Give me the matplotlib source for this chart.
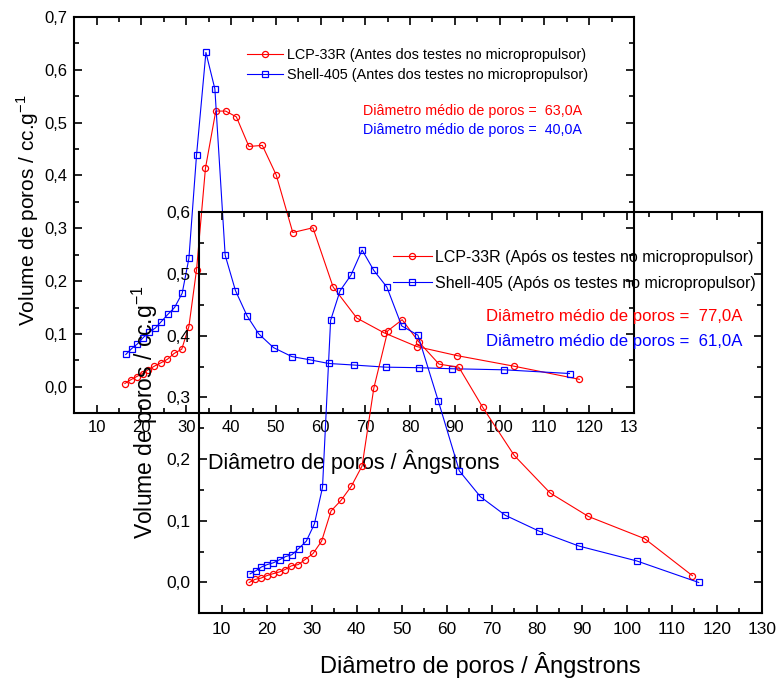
import matplotlib
matplotlib.use('Agg')
import matplotlib.pyplot as plt
from matplotlib.ticker import MultipleLocator
from matplotlib.transforms import Bbox, TransformedBbox

plt.rcParams['font.family'] = ['Liberation Sans', 'DejaVu Sans']

# Antes dos testes (top-left plot)
lcp_antes_x = [16.3, 17.6, 18.9, 20.3, 21.5, 22.9, 24.3, 25.8, 27.3, 29.0, 30.6, 32.3, 34.3, 36.6,
               38.8, 41.2, 44.0, 47.0, 50.1, 53.8, 58.3, 62.8, 68.1, 74.2, 81.5, 90.4, 103.1, 117.8]
lcp_antes_y = [0.006, 0.013, 0.019, 0.025, 0.032, 0.039, 0.045, 0.052, 0.063, 0.071, 0.114, 0.221, 0.414, 0.522,
               0.522, 0.511, 0.455, 0.457, 0.401, 0.292, 0.301, 0.189, 0.130, 0.102, 0.076, 0.059, 0.039, 0.014]
shell_antes_x = [16.5, 17.8, 19.1, 20.4, 21.7, 23.1, 24.4, 25.9, 27.4, 29.1, 30.6, 32.3, 34.4, 36.4,
                 38.7, 41.0, 43.6, 46.2, 49.5, 53.6, 57.6, 61.8, 67.5, 74.6, 82.0, 89.4, 101.0, 115.6]
shell_antes_y = [0.061, 0.072, 0.081, 0.093, 0.103, 0.111, 0.123, 0.137, 0.150, 0.177, 0.243, 0.438, 0.633, 0.564,
                 0.249, 0.182, 0.134, 0.100, 0.074, 0.057, 0.051, 0.044, 0.041, 0.037, 0.036, 0.034, 0.032, 0.025]

# Após os testes (lower-right plot)
lcp_apos_x = [16.1, 17.4, 18.7, 20.0, 21.3, 22.8, 24.1, 25.5, 27.0, 28.5, 30.3, 32.2, 34.3, 36.5,
              38.8, 41.2, 43.8, 46.9, 50.1, 53.8, 58.3, 62.7, 68.0, 75.0, 83.0, 91.5, 104.0, 114.6]
lcp_apos_y = [0.000, 0.005, 0.007, 0.011, 0.014, 0.017, 0.021, 0.027, 0.029, 0.037, 0.047, 0.067, 0.116, 0.133,
              0.156, 0.189, 0.315, 0.408, 0.426, 0.390, 0.354, 0.349, 0.284, 0.206, 0.145, 0.107, 0.071, 0.011]
shell_apos_x = [16.3, 17.6, 18.8, 20.1, 21.5, 22.9, 24.2, 25.6, 27.1, 28.8, 30.6, 32.4, 34.2, 36.3,
                38.7, 41.2, 43.8, 46.7, 50.0, 53.6, 58.1, 62.8, 67.5, 73.0, 80.6, 89.4, 102.2, 116.0]
shell_apos_y = [0.014, 0.019, 0.025, 0.029, 0.032, 0.037, 0.042, 0.045, 0.055, 0.067, 0.095, 0.154, 0.425, 0.473,
                0.498, 0.539, 0.506, 0.479, 0.416, 0.401, 0.295, 0.181, 0.139, 0.109, 0.083, 0.059, 0.035, 0.000]

x_ticks = [10, 20, 30, 40, 50, 60, 70, 80, 90, 100, 110, 120, 130]
x_tick_labels = ['10', '20', '30', '40', '50', '60', '70', '80', '90', '100', '110', '120', '130']
y_ticks_top = [0.0, 0.1, 0.2, 0.3, 0.4, 0.5, 0.6, 0.7]
y_labels_top = ['0,0', '0,1', '0,2', '0,3', '0,4', '0,5', '0,6', '0,7']
y_ticks_low = [0.0, 0.1, 0.2, 0.3, 0.4, 0.5, 0.6]
y_labels_low = ['0,0', '0,1', '0,2', '0,3', '0,4', '0,5', '0,6']

ylab = 'Volume de poros / cc.g$^{\\mathregular{-1}}$'
xlab = 'Diâmetro de poros / Ângstrons'

fig = plt.figure(figsize=(7.76, 6.78), dpi=100)
ax1 = fig.add_axes([0.0957, 0.3907, 0.7213, 0.5841])
ax2 = fig.add_axes([0.2567, 0.0954, 0.7249, 0.5913])

style = dict(lw=0.8, ms=4.4, mew=0.9, mfc='none')
ax1.plot(lcp_antes_x, lcp_antes_y, '-o', color='red', **style,
         label='LCP-33R (Antes dos testes no micropropulsor)')
ax1.plot(shell_antes_x, shell_antes_y, '-s', color='blue', **style,
         label='Shell-405 (Antes dos testes no micropropulsor)')
ax2.plot(lcp_apos_x, lcp_apos_y, '-o', color='red', **style,
         label='LCP-33R (Após os testes no micropropulsor)')
ax2.plot(shell_apos_x, shell_apos_y, '-s', color='blue', **style,
         label='Shell-405 (Após os testes no micropropulsor)')

for ax, yt, yl, ylim in ((ax1, y_ticks_top, y_labels_top, (-0.05, 0.7)),
                         (ax2, y_ticks_low, y_labels_low, (-0.05, 0.6))):
    ax.set_facecolor('none')
    ax.set_xlim(5, 130)
    ax.set_ylim(*ylim)
    ax.set_xticks(x_ticks)
    ax.set_xticklabels(x_tick_labels)
    ax.set_yticks(yt)
    ax.set_yticklabels(yl)
    ax.xaxis.set_minor_locator(MultipleLocator(5))
    ax.yaxis.set_minor_locator(MultipleLocator(0.05))
    ax.tick_params(which='both', direction='in', top=True, right=True, width=1.2)
    ax.tick_params(which='major', length=6)
    ax.tick_params(which='minor', length=3.5)
    for s in ax.spines.values():
        s.set_linewidth(1.5)

ax1.tick_params(which='major', labelsize=12, pad=5)
ax2.tick_params(which='major', labelsize=12.5, pad=6.5)

# the last top-plot tick label is cut off in the original
lbl = ax1.get_xticklabels()[-1]
lbl.set_clip_on(True)
lbl.set_clip_box(TransformedBbox(Bbox([[0, 0], [638 / 776, 1]]), fig.transFigure))

ax1.set_ylabel(ylab, fontsize=15)
ax1.yaxis.set_label_coords(-0.059, 0.513)
ax1.set_xlabel(xlab, fontsize=15.5)
ax1.xaxis.set_label_coords(0.5, -0.092)
ax2.set_ylabel(ylab, fontsize=16.5)
ax2.yaxis.set_label_coords(-0.069, 0.502)
ax2.set_xlabel(xlab, fontsize=17)
ax2.xaxis.set_label_coords(0.5, -0.097)

ax1.legend(loc='upper left', bbox_to_anchor=(0.318, 0.9296), bbox_transform=fig.transFigure,
           frameon=False, fontsize=10.4, handlelength=2.5, handletextpad=0.28,
           labelspacing=0.44, borderpad=0, borderaxespad=0)
ax2.legend(loc='upper left', bbox_to_anchor=(0.506, 0.632), bbox_transform=fig.transFigure,
           frameon=False, fontsize=11.5, handlelength=2.45, handletextpad=0.2,
           labelspacing=0.7, borderpad=0, borderaxespad=0)

fig.text(0.4674, 0.8363, 'Diâmetro médio de poros =  63,0A', color='red', fontsize=10.3, va='center')
fig.text(0.4674, 0.8082, 'Diâmetro médio de poros =  40,0A', color='blue', fontsize=10.3, va='center')
fig.text(0.6263, 0.5330, 'Diâmetro médio de poros =  77,0A', color='red', fontsize=12.1, va='center')
fig.text(0.6263, 0.4965, 'Diâmetro médio de poros =  61,0A', color='blue', fontsize=12.1, va='center')

fig.savefig('out.png', dpi=100, facecolor='white')
